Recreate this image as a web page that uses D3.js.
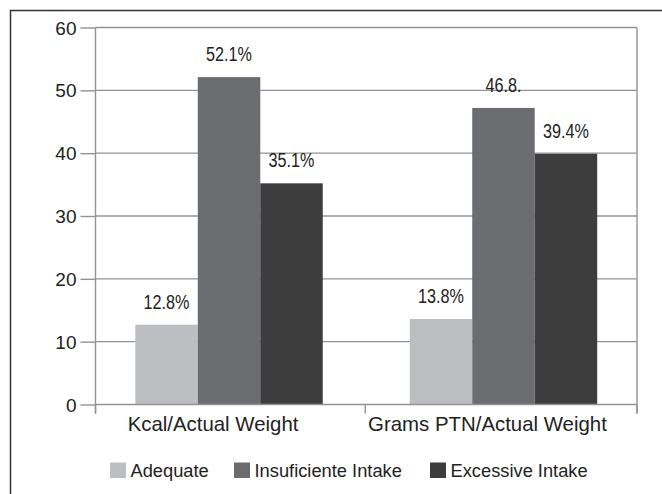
<!DOCTYPE html>
<html>
<head>
<meta charset="utf-8">
<script src="https://cdn.jsdelivr.net/npm/d3@7"></script>
<style>
  html, body { margin: 0; padding: 0; background: #fff; }
  svg { display: block; }
</style>
</head>
<body>
<svg id="chart" width="662" height="494"></svg>
<script>
// ---- data ----
const categories = ["Kcal/Actual Weight", "Grams PTN/Actual Weight"];
const seriesNames = ["Adequate", "Insuficiente Intake", "Excessive Intake"];
const seriesColors = ["#bdbec1", "#6b6c70", "#3d3d3e"];
const adequate = [12.7, 13.6];
const insufficient = [52.1, 47.2];
const excessive = [35.2, 39.9];
const valueLabels = [["12.8%", "52.1%", "35.1%"], ["13.8%", "46.8.", "39.4%"]];
const yTicks = [0, 10, 20, 30, 40, 50, 60];

const seriesValues = [adequate, insufficient, excessive];
const rows = categories.map((c, i) => ({
  cat: c,
  vals: seriesNames.map((s, j) => ({ name: s, value: seriesValues[j][i], label: valueLabels[i][j], color: seriesColors[j] }))
}));

const svg = d3.select("#chart");
const pLeft = 95.5, pRight = 637, pTop = 27.5, pBottom = 404.5;
const FONT = "'Liberation Sans', Arial, Helvetica, sans-serif";

// outer frame
svg.append("rect")
  .attr("x", 10.5).attr("y", 10.5).attr("width", 700).attr("height", 600)
  .attr("fill", "none").attr("stroke", "#333").attr("stroke-width", 1.5);

const y = d3.scaleLinear().domain([0, 60]).range([pBottom, pTop]);
const x0 = d3.scaleBand().domain(categories).range([pLeft, pRight]).paddingInner(0.317).paddingOuter(0.145);
const x1 = d3.scaleBand().domain(seriesNames).range([0, x0.bandwidth()]).padding(0);

const gridColor = "#939393";

// gridlines
svg.append("g").selectAll("line").data(yTicks.filter(t => t > 0)).join("line")
  .attr("x1", pLeft).attr("x2", pRight)
  .attr("y1", d => y(d)).attr("y2", d => y(d))
  .attr("stroke", gridColor).attr("stroke-width", 1.4);

// right border of plot
svg.append("line").attr("x1", pRight).attr("x2", pRight).attr("y1", pTop).attr("y2", pBottom + 9)
  .attr("stroke", gridColor).attr("stroke-width", 1.4);

// bars
const groups = svg.append("g").selectAll("g").data(rows).join("g")
  .attr("transform", d => `translate(${x0(d.cat)},0)`);
groups.selectAll("rect").data(d => d.vals).join("rect")
  .attr("x", d => x1(d.name))
  .attr("width", x1.bandwidth())
  .attr("y", d => y(d.value))
  .attr("height", d => y(0) - y(d.value))
  .attr("fill", d => d.color);

// value labels (condensed)
groups.selectAll("text").data(d => d.vals).join("text")
  .attr("x", d => x1(d.name) + x1.bandwidth() / 2)
  .attr("y", d => y(d.value) - 16)
  .attr("text-anchor", "middle")
  .attr("font-family", FONT)
  .attr("font-size", 19.5)
  .attr("fill", "#222")
  .text(d => d.label)
  .each(function () {
    const w = this.getComputedTextLength();
    d3.select(this).attr("textLength", w * 0.83).attr("lengthAdjust", "spacingAndGlyphs");
  });

// y axis
const yAxis = d3.axisLeft(y).tickValues(yTicks).tickSize(15).tickPadding(4).tickFormat(d3.format("d"));
const gy = svg.append("g").attr("transform", `translate(${pLeft},0)`).call(yAxis);
gy.select(".domain").remove();
gy.append("line").attr("x1", 0).attr("x2", 0).attr("y1", pTop).attr("y2", pBottom + 9)
  .attr("stroke", gridColor).attr("stroke-width", 1.4);
gy.selectAll(".tick line").attr("stroke", gridColor).attr("stroke-width", 1.4);
gy.selectAll(".tick text").attr("font-family", FONT)
  .attr("font-size", 19).attr("fill", "#222").attr("dy", "0.35em");

// x axis baseline and category ticks
svg.append("line").attr("x1", pLeft).attr("x2", pRight).attr("y1", pBottom).attr("y2", pBottom)
  .attr("stroke", gridColor).attr("stroke-width", 1.6);
const catTickPos = [pLeft, (pLeft + pRight) / 2 - 1, pRight];
svg.append("g").selectAll("line").data(catTickPos).join("line")
  .attr("x1", d => d).attr("x2", d => d).attr("y1", pBottom).attr("y2", pBottom + 9)
  .attr("stroke", gridColor).attr("stroke-width", 1.4);

svg.append("g").selectAll("text").data(categories).join("text")
  .attr("x", d => x0(d) + x0.bandwidth() / 2 - 16)
  .attr("y", 431)
  .attr("text-anchor", "middle")
  .attr("font-family", FONT)
  .attr("font-size", 20.4)
  .attr("fill", "#222")
  .text(d => d);

// legend
const legendX = [110, 234, 430];
const lg = svg.append("g").selectAll("g").data(seriesNames).join("g")
  .attr("transform", (d, i) => `translate(${legendX[i]},462.5)`);
lg.append("rect").attr("width", 16).attr("height", 15.5).attr("fill", (d, i) => seriesColors[i]);
lg.append("text").attr("x", 20.5).attr("y", 14.8)
  .attr("font-family", FONT)
  .attr("font-size", 18.3)
  .attr("fill", "#222")
  .text(d => d);
</script>
</body>
</html>
